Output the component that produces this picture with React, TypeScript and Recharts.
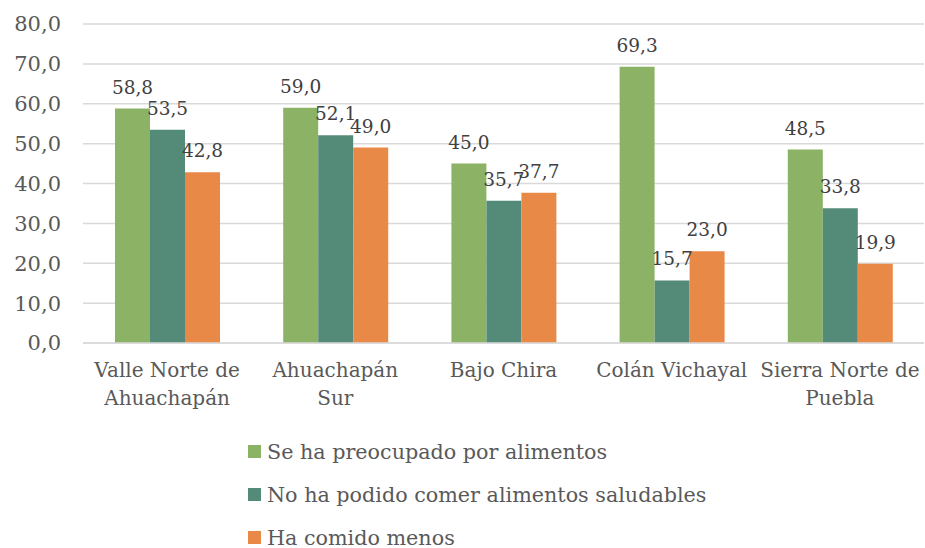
import { Bar, BarChart, CartesianGrid, LabelList, Legend, XAxis, YAxis } from "recharts";

const categories = [
  "Valle Norte de\nAhuachapán",
  "Ahuachapán\nSur",
  "Bajo Chira",
  "Colán Vichayal",
  "Sierra Norte de\nPuebla",
];
const preocupado = [58.8, 59.0, 45.0, 69.3, 48.5];
const noSaludables = [53.5, 52.1, 35.7, 15.7, 33.8];
const comidoMenos = [42.8, 49.0, 37.7, 23.0, 19.9];
const yTicks = [0, 10, 20, 30, 40, 50, 60, 70, 80];

const seriesInfo = [
  { key: "preocupado", name: "Se ha preocupado por alimentos", color: "#8CB265" },
  { key: "noSaludables", name: "No ha podido comer alimentos saludables", color: "#548B78" },
  { key: "comidoMenos", name: "Ha comido menos", color: "#E98948" },
];

const chartData = categories.map((cat, i) => ({
  cat,
  preocupado: preocupado[i],
  noSaludables: noSaludables[i],
  comidoMenos: comidoMenos[i],
}));

const FONT = "'DejaVu Serif', serif";
const fmt = (v: any) => Number(v).toFixed(1).replace(".", ",");

function CategoryTick(props: any) {
  const { x, y, payload } = props;
  const lines = String(payload.value).split("\n");
  return (
    <text x={x} y={y + 26} textAnchor="middle" fill="#595959" fontSize={20} fontFamily={FONT}>
      {lines.map((ln, i) => (
        <tspan key={i} x={x} dy={i === 0 ? 0 : 28}>
          {ln}
        </tspan>
      ))}
    </text>
  );
}

function LegendBox() {
  return (
    <div style={{ height: 118, overflow: "visible", paddingLeft: 248, fontFamily: FONT, fontSize: 20.7, color: "#595959" }}>
      {seriesInfo.map((s) => (
        <div key={s.key} style={{ height: 43, display: "flex", alignItems: "center" }}>
          <span style={{ width: 13, height: 13, background: s.color, display: "inline-block", marginRight: 6 }} />
          <span>{s.name}</span>
        </div>
      ))}
    </div>
  );
}

export default function App() {
  return (
    <div style={{ position: "absolute", left: 0, top: 0, background: "#fff" }}>
      <BarChart
        width={925}
        height={548}
        data={chartData}
        margin={{ top: 24, right: 1, left: 0, bottom: 0 }}
        barGap={0}
        barSize={35}
      >
        <CartesianGrid vertical={false} stroke="#D9D9D9" strokeWidth={1.5} />
        <XAxis
          dataKey="cat"
          interval={0}
          tickLine={false}
          axisLine={{ stroke: "#D9D9D9", strokeWidth: 1.5 }}
          height={87}
          tick={<CategoryTick />}
        />
        <YAxis
          domain={[0, 80]}
          ticks={yTicks}
          width={83}
          axisLine={false}
          tickLine={false}
          tickMargin={16}
          tickFormatter={fmt}
          tick={{ fill: "#595959", fontSize: 21, fontFamily: FONT }}
        />
        <Legend
          layout="vertical"
          align="center"
          verticalAlign="bottom"
          wrapperStyle={{ left: 0, width: 925 }}
          content={<LegendBox />}
        />
        {seriesInfo.map((s) => (
          <Bar key={s.key} dataKey={s.key} name={s.name} fill={s.color} isAnimationActive={false}>
            <LabelList
              dataKey={s.key}
              position="top"
              offset={15}
              formatter={fmt}
              fill="#404040"
              fontSize={18.5}
              fontFamily={FONT}
            />
          </Bar>
        ))}
      </BarChart>
    </div>
  );
}
